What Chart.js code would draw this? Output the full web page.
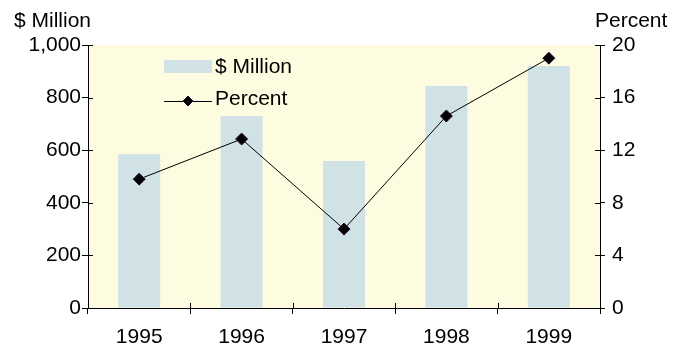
<!DOCTYPE html>
<html><head><meta charset="utf-8">
<script src="https://cdn.jsdelivr.net/npm/chart.js@4/dist/chart.umd.min.js"></script>
<style>html,body{margin:0;padding:0;background:#fff}#w{width:695px;height:346px}</style>
</head><body><div id="w"><canvas id="c"></canvas></div>
<script>
const categories = ['1995','1996','1997','1998','1999'];
const millionValues = [585, 730, 559, 844, 920];
const percentValues = [9.8, 12.85, 6.0, 14.6, 19.0];
const leftTicks = [0,200,400,600,800,1000];
const rightTicks = [0,4,8,12,16,20];
const leftTitle = '$ Million';
const rightTitle = 'Percent';

const FONT = '"Liberation Sans", Arial, sans-serif';
const FS = 21;
const BG = '#FEFCE0';
const BAR = '#D0E2E6';

const decor = {
  id:'decor',
  beforeDraw(chart){
    const {ctx, chartArea:a} = chart;
    ctx.save();
    ctx.fillStyle = BG;
    ctx.fillRect(a.left, a.top, a.right-a.left, a.bottom-a.top);
    ctx.restore();
  },
  afterDraw(chart){
    const {ctx, chartArea:a, scales} = chart;
    ctx.save();
    ctx.strokeStyle = '#000'; ctx.lineWidth = 1;
    ctx.beginPath();
    scales.y.ticks.forEach(t=>{const y=Math.round(scales.y.getPixelForValue(t.value))+0.5; ctx.moveTo(a.left, y); ctx.lineTo(a.left+5, y);});
    scales.y1.ticks.forEach(t=>{const y=Math.round(scales.y1.getPixelForValue(t.value))+0.5; ctx.moveTo(a.right-5, y); ctx.lineTo(a.right, y);});
    const n = categories.length, w=(a.right-a.left)/n;
    for(let i=0;i<=n;i++){const x=Math.round(a.left+i*w)+0.5; ctx.moveTo(x,a.bottom-5); ctx.lineTo(x,a.bottom);}
    ctx.stroke();
    ctx.fillStyle='#000'; ctx.font = FS+'px '+FONT; ctx.textBaseline='alphabetic';
    ctx.textAlign='left';
    ctx.fillText(leftTitle, 14, 27);
    ctx.fillText(rightTitle, 595, 27);
    const barDs = chart.data.datasets.find(d=>d.type==='bar');
    const lineDs = chart.data.datasets.find(d=>d.type==='line');
    const lx=164, ly1=66, ly2=101;
    ctx.fillStyle = BAR; ctx.fillRect(lx, ly1-6, 48, 13);
    ctx.beginPath(); ctx.moveTo(lx, ly2+0.5); ctx.lineTo(lx+48, ly2+0.5); ctx.stroke();
    ctx.fillStyle='#000'; ctx.strokeStyle='#2a0a3a';
    ctx.beginPath(); ctx.moveTo(lx+24, ly2-5); ctx.lineTo(lx+29, ly2); ctx.lineTo(lx+24, ly2+5); ctx.lineTo(lx+19, ly2); ctx.closePath(); ctx.fill(); ctx.stroke();
    ctx.fillStyle='#000'; ctx.textBaseline='middle';
    ctx.fillText(barDs.label, 215, ly1+1);
    ctx.fillText(lineDs.label, 215, ly2-2);
    ctx.restore();
  }
};

new Chart(document.getElementById('c'), {
  data: {
    labels: categories,
    datasets: [
      {type:'line', label:'Percent', data: percentValues, yAxisID:'y1', borderColor:'#000', borderWidth:1,
       pointStyle:'rectRot', pointRadius:6, pointHoverRadius:6, pointBackgroundColor:'#000', pointBorderColor:'#2a0a3a', pointBorderWidth:1, tension:0, order:0},
      {type:'bar', label:'$ Million', data: millionValues, yAxisID:'y', backgroundColor: BAR, borderWidth:0,
       categoryPercentage:1, barPercentage:0.41, order:1}
    ]
  },
  options: {
    responsive:true, maintainAspectRatio:false, animation:false,
    events: [],
    layout:{padding:{top:45, left:0, right:0, bottom:0}},
    plugins:{legend:{display:false}, tooltip:{enabled:false}},
    scales:{
      x:{
        offset:true,
        grid:{offset:true, drawOnChartArea:false, drawTicks:true, tickLength:6, color:'#000', lineWidth:1},
        border:{display:true, color:'#000', width:1},
        ticks:{color:'#000', font:{family:FONT, size:FS}, padding:11, maxRotation:0},
        afterFit(s){ s.height = 38; }
      },
      y:{
        position:'left', min:0, max:1000,
        afterBuildTicks(s){ s.ticks = leftTicks.map(v=>({value:v})); },
        grid:{drawOnChartArea:false, tickLength:6, color:'#000'},
        border:{display:true, color:'#000', width:1},
        ticks:{color:'#000', font:{family:FONT, size:FS}, padding:1, callback:v=>v.toLocaleString('en-US')},
        afterFit(s){ s.width = 88; }
      },
      y1:{
        position:'right', min:0, max:20,
        afterBuildTicks(s){ s.ticks = rightTicks.map(v=>({value:v})); },
        grid:{drawOnChartArea:false, tickLength:5, color:'#000'},
        border:{display:true, color:'#000', width:1},
        ticks:{color:'#000', font:{family:FONT, size:FS}, padding:7},
        afterFit(s){ s.width = 95; }
      }
    }
  },
  plugins:[decor]
});
</script></body></html>
